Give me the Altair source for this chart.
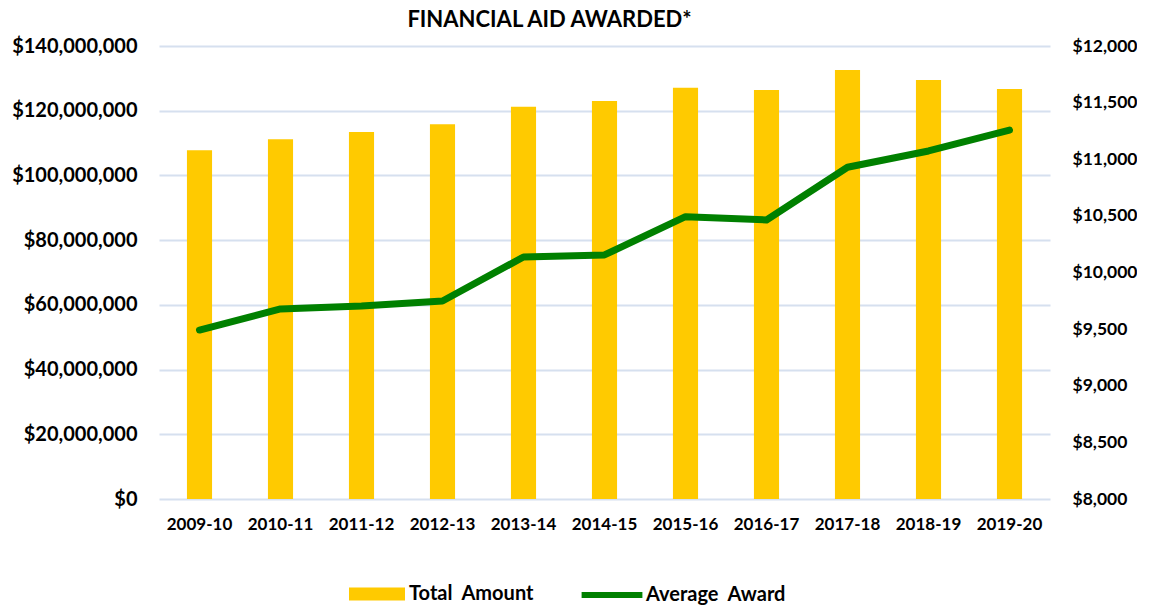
import altair as alt
import pandas as pd

years = ["2009-10", "2010-11", "2011-12", "2012-13", "2013-14", "2014-15",
         "2015-16", "2016-17", "2017-18", "2018-19", "2019-20"]
total_amount = [107.8e6, 111.2e6, 113.4e6, 115.8e6, 121.2e6, 123.0e6,
                127.1e6, 126.4e6, 132.6e6, 129.5e6, 126.7e6]
average_award = [9492, 9678, 9704, 9748, 10137, 10155,
                 10493, 10464, 10929, 11073, 11258]
legend_labels = ["Total\u00a0 Amount", "Average\u00a0 Award"]

df = pd.DataFrame({"year": years, "total": total_amount, "avg": average_award})

FONT = "Lato"
W = "bold"
base = alt.Chart(df)

x = alt.X("year:N", sort=years, title=None,
          scale=alt.Scale(paddingInner=0.69, paddingOuter=0.345),
          axis=alt.Axis(labelAngle=0, labelFont=FONT, labelFontWeight=W,
                        labelFontSize=17, labelColor="#000000", domain=False,
                        ticks=False, labelPadding=17, grid=False))

bars = base.mark_bar(color="#FFCA00").encode(
    x=x,
    y=alt.Y("total:Q", title=None,
            scale=alt.Scale(domain=[0, 140e6], nice=False),
            axis=alt.Axis(orient="left", values=[i * 20e6 for i in range(8)],
                          format="$,.0f", labelFont=FONT, labelFontWeight=W,
                          labelFontSize=20, labelColor="#000000", domain=False,
                          ticks=False, labelPadding=22, grid=True,
                          gridColor="#D6E0EF", gridWidth=2)),
    fill=alt.Fill("k:N", scale=alt.Scale(domain=[legend_labels[0]], range=["#FFCA00"]),
                  legend=alt.Legend(title=None, orient="none", legendX=208, legendY=538,
                                    symbolType="M-3.5,-0.8125L3.5,-0.8125L3.5,0.8125L-3.5,0.8125Z",
                                    symbolSize=256, symbolStrokeWidth=0,
                                    symbolOpacity=1,
                                    labelFont=FONT, labelFontWeight=W,
                                    labelFontSize=20, labelColor="#000000",
                                    labelOffset=22)),
).transform_calculate(k="'" + legend_labels[0] + "'")

line = base.mark_line(color="#008000", strokeWidth=7, strokeCap="round",
                      strokeJoin="round").encode(
    x=x,
    y=alt.Y("avg:Q", title=None,
            scale=alt.Scale(domain=[8000, 12000], nice=False),
            axis=alt.Axis(orient="right", values=list(range(8000, 12001, 500)),
                          format="$,.0f", labelFont=FONT, labelFontWeight=W,
                          labelFontSize=17.5, labelColor="#000000", domain=False,
                          ticks=False, labelPadding=22, grid=False)),
    stroke=alt.Stroke("k:N", scale=alt.Scale(domain=[legend_labels[1]], range=["#008000"]),
                      legend=alt.Legend(title=None, orient="none", legendX=442, legendY=538,
                                        symbolType="M-3.8,0L3.8,0",
                                        symbolSize=256, symbolStrokeWidth=6,
                                        labelFont=FONT, labelFontWeight=W,
                                        labelFontSize=20, labelColor="#000000",
                                        labelOffset=23)),
).transform_calculate(k="'" + legend_labels[1] + "'")

chart = alt.layer(bars, line).resolve_scale(
    y="independent", fill="independent", stroke="independent"
).properties(
    width=891, height=453,
    padding={"left": 3, "top": 1, "right": 0, "bottom": 0},
    title=alt.TitleParams("FINANCIAL AID AWARDED*", font=FONT, fontSize=22,
                          fontWeight=W, color="#000000", anchor="middle",
                          dx=-55, offset=4),
).configure_view(stroke=None)

chart.save("out.html", embed_options={"renderer": "svg", "actions": False})
